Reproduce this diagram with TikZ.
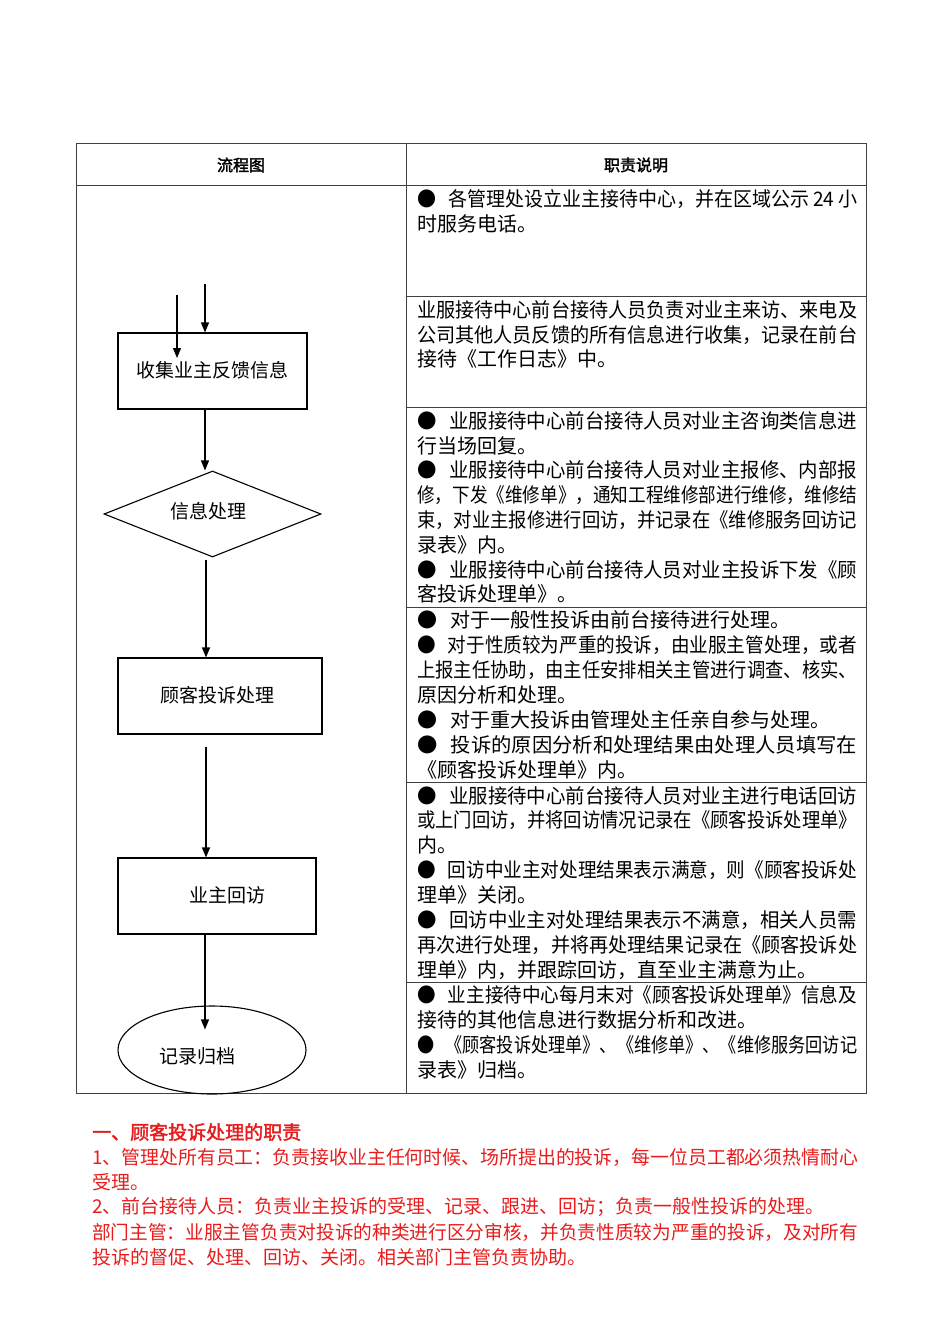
\documentclass[tikz,border=0pt]{standalone}
\usepackage{graphicx}
\usepackage{fontspec}
\setmainfont{Noto Sans CJK SC}[AutoFakeBold=2]
\usetikzlibrary{arrows.meta,shapes.geometric,calc}

\definecolor{dutyred}{RGB}{232,28,28}
\newcommand{\blt}{●\hspace{13pt}}
\newcommand{\fullline}[1]{\resizebox{440pt}{\height}{#1}}
\newcommand{\fullred}[1]{\resizebox{766pt}{\height}{#1}}

\tikzset{
	rule/.style={draw=black!75,line width=0.9pt},
	head/.style={inner sep=0pt,font=\fontsize{16}{18}\selectfont\bfseries},
	duty/.style={anchor=west,inner sep=0pt,font=\fontsize{20}{24}\selectfont},
	note/.style={anchor=west,inner sep=0pt,text=dutyred,font=\fontsize{19}{23}\selectfont},
	flowbox/.style={draw,line width=1.1pt,rectangle,minimum height=76pt,inner sep=0pt,font=\fontsize{19}{22}\selectfont},
	flowdia/.style={draw,line width=1.1pt,diamond,minimum width=217pt,minimum height=86pt,inner sep=0pt,font=\fontsize{19}{22}\selectfont},
	flowend/.style={draw,line width=1.1pt,ellipse,minimum width=188pt,minimum height=88pt,inner sep=0pt,font=\fontsize{19}{22}\selectfont},
	flowarrow/.style={line width=1.1pt,-{Triangle[length=10pt,width=8pt]}},
}

\begin{document}
\begin{tikzpicture}[x=1pt,y=-1pt]
	\useasboundingbox (0,0) rectangle (950,1344);

	% table
	\draw[rule] (76,143) rectangle (866,1093);
	\draw[rule] (406,143) -- (406,1093);
	\draw[rule] (76,185) -- (866,185);
	\foreach \y in {296,407,607,782,982}
		\draw[rule] (406,\y) -- (866,\y);
	\node[head] (flowhead) at (241,165) {流程图};
	\node[head] (dutyhead) at (636,165) {职责说明};

	% flow chart
	\node[flowbox,minimum width=189pt] (collect) at (212.5,371) {\raisebox{3pt}{收集业主反馈信息}};
	\node[flowdia] (judge) at (212.5,514) {\raisebox{-4pt}[0pt][0pt]{信息处理}\hspace*{8pt}};
	\node[flowbox,minimum width=204pt] (complain) at (220,696) {\raisebox{3pt}{顾客投诉处理}\hspace*{6pt}};
	\node[flowbox,minimum width=198pt] (revisit) at (217,896) {\hspace*{20pt}\raisebox{3pt}{业主回访}};
	\node[flowend] (archive) at (212,1050) {\raisebox{-13pt}[0pt][0pt]{记录归档}\hspace*{30pt}};

	\coordinate (spine) at (205,0);
	\coordinate (in1) at (177,295);
	\coordinate (in1end) at (177,358);
	\coordinate (in2) at (205,284);
	\draw[flowarrow] (in1) -- (in1end);
	\draw[flowarrow] (in2) -- (in2 |- collect.north);
	\draw[flowarrow] (collect.south -| spine) -- (judge.north -| spine);
	\draw[flowarrow] ($(judge.south -| spine)+(1,2)$) -- ($(complain.north -| spine)+(1,0)$);
	\draw[flowarrow] ($(complain.south -| spine)+(1,12)$) -- ($(revisit.north -| spine)+(1,0)$);
	\draw[flowarrow] (revisit.south -| spine) -- ($(archive.north -| spine)+(0,24)$);

	% duties
	\node[duty] (r1a) at (417,199) {\fullline{\blt 各管理处设立业主接待中心，并在区域公示\hspace{4pt}24\hspace{4pt}小}};
	\node[duty] (r1b) at (417,224) {时服务电话。};

	\node[duty] (r2a) at (417,310) {\fullline{业服接待中心前台接待人员负责对业主来访、来电及}};
	\node[duty] (r2b) at (417,335) {\fullline{公司其他人员反馈的所有信息进行收集，记录在前台}};
	\node[duty] (r2c) at (417,359) {接待《工作日志》中。};

	\node[duty] (r3a) at (417,421) {\fullline{\blt 业服接待中心前台接待人员对业主咨询类信息进}};
	\node[duty] (r3b) at (417,446) {行当场回复。};
	\node[duty] (r3c) at (417,470) {\fullline{\blt 业服接待中心前台接待人员对业主报修、内部报}};
	\node[duty] (r3d) at (417,495) {\fullline{修，下发《维修单》，通知工程维修部进行维修，维修结}};
	\node[duty] (r3e) at (417,520) {\fullline{束，对业主报修进行回访，并记录在《维修服务回访记}};
	\node[duty] (r3f) at (417,545) {录表》内。};
	\node[duty] (r3g) at (417,570) {\fullline{\blt 业服接待中心前台接待人员对业主投诉下发《顾}};
	\node[duty] (r3h) at (417,594) {客投诉处理单》。};

	\node[duty] (r4a) at (417,620) {\blt 对于一般性投诉由前台接待进行处理。};
	\node[duty] (r4b) at (417,645) {\fullline{\blt 对于性质较为严重的投诉，由业服主管处理，或者}};
	\node[duty] (r4c) at (417,670) {\fullline{上报主任协助，由主任安排相关主管进行调查、核实、}};
	\node[duty] (r4d) at (417,695) {原因分析和处理。};
	\node[duty] (r4e) at (417,720) {\blt 对于重大投诉由管理处主任亲自参与处理。};
	\node[duty] (r4f) at (417,745) {\fullline{\blt 投诉的原因分析和处理结果由处理人员填写在}};
	\node[duty] (r4g) at (417,770) {《顾客投诉处理单》内。};

	\node[duty] (r5a) at (417,796) {\fullline{\blt 业服接待中心前台接待人员对业主进行电话回访}};
	\node[duty] (r5b) at (417,820) {\fullline{或上门回访，并将回访情况记录在《顾客投诉处理单》}};
	\node[duty] (r5c) at (417,845) {内。};
	\node[duty] (r5d) at (417,870) {\fullline{\blt 回访中业主对处理结果表示满意，则《顾客投诉处}};
	\node[duty] (r5e) at (417,895) {理单》关闭。};
	\node[duty] (r5f) at (417,920) {\fullline{\blt 回访中业主对处理结果表示不满意，相关人员需}};
	\node[duty] (r5g) at (417,945) {\fullline{再次进行处理，并将再处理结果记录在《顾客投诉处}};
	\node[duty] (r5h) at (417,970) {理单》内，并跟踪回访，直至业主满意为止。};

	\node[duty] (r6a) at (417,995) {\fullline{\blt 业主接待中心每月末对《顾客投诉处理单》信息及}};
	\node[duty] (r6b) at (417,1020) {接待的其他信息进行数据分析和改进。};
	\node[duty] (r6c) at (417,1045) {\fullline{\blt 《顾客投诉处理单》、《维修单》、《维修服务回访记}};
	\node[duty] (r6d) at (417,1070) {录表》归档。};

	% notes below the table
	\node[note,font=\fontsize{19}{23}\selectfont\bfseries] (n0) at (92,1132) {一、顾客投诉处理的职责};
	\node[note] (n1) at (92,1157) {\fullred{1、管理处所有员工：负责接收业主任何时候、场所提出的投诉，每一位员工都必须热情耐心}};
	\node[note] (n2) at (92,1182) {受理。};
	\node[note] (n3) at (92,1207) {2、前台接待人员：负责业主投诉的受理、记录、跟进、回访；负责一般性投诉的处理。};
	\node[note] (n4) at (92,1232) {\fullred{部门主管：业服主管负责对投诉的种类进行区分审核，并负责性质较为严重的投诉，及对所有}};
	\node[note] (n5) at (92,1257) {投诉的督促、处理、回访、关闭。相关部门主管负责协助。};
\end{tikzpicture}
\end{document}
